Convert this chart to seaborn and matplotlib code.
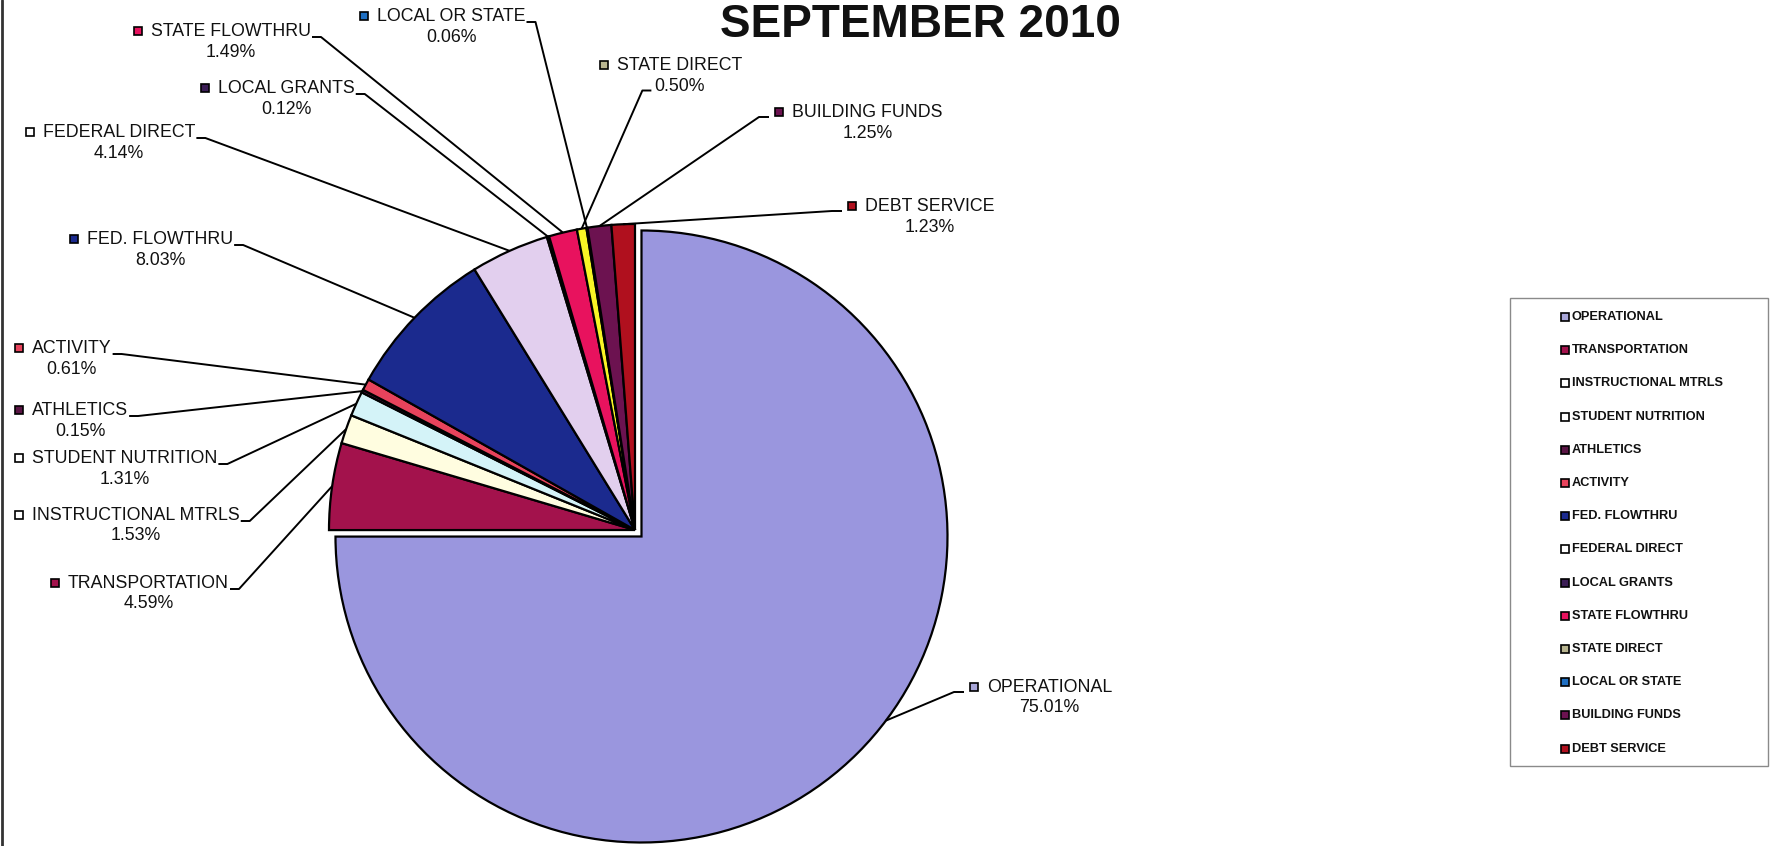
import numpy as np
import pandas as pd
import matplotlib
matplotlib.use("Agg")
import matplotlib.pyplot as plt
import seaborn as sns
from matplotlib.patches import Rectangle

# ---------------- data ----------------
categories = ["OPERATIONAL", "TRANSPORTATION", "INSTRUCTIONAL MTRLS", "STUDENT NUTRITION",
              "ATHLETICS", "ACTIVITY", "FED. FLOWTHRU", "FEDERAL DIRECT", "LOCAL GRANTS",
              "STATE FLOWTHRU", "STATE DIRECT", "LOCAL OR STATE", "BUILDING FUNDS", "DEBT SERVICE"]
percent = [75.01, 4.59, 1.53, 1.31, 0.15, 0.61, 8.03, 4.14, 0.12, 1.49, 0.50, 0.06, 1.25, 1.23]
title = "SEPTEMBER 2010"

colors = ["#9a96de", "#a3124c", "#fffde0", "#d4f3f8", "#5a1545", "#e8435c", "#1b2a8e",
          "#e2cfee", "#3b1d55", "#e8125e", "#f8f525", "#1f6fc2", "#6c1250", "#b0101e"]
marker_colors = ["#a8a6d8", "#a3124c", "#ffffff", "#ffffff", "#5a1545", "#e8435c", "#1b2a8e",
                 "#ffffff", "#3b1d55", "#e8125e", "#b8b590", "#1f6fc2", "#6c1250", "#b0101e"]

# ---------------- layout (pixel positions, y measured from top) ----------------
W, H = 1775, 846
CX, CY, R = 635, 530, 306
labels_pos = {
    "STATE FLOWTHRU": (151, 31, "L"),
    "LOCAL OR STATE": (377, 16, "L"),
    "STATE DIRECT": (617, 65, "P"),
    "BUILDING FUNDS": (792, 112, "R"),
    "DEBT SERVICE": (865, 206, "R"),
    "LOCAL GRANTS": (218, 88, "L"),
    "FEDERAL DIRECT": (43, 132, "L"),
    "FED. FLOWTHRU": (87, 239, "L"),
    "ACTIVITY": (32, 348, "L"),
    "ATHLETICS": (32, 410, "L"),
    "STUDENT NUTRITION": (32, 458, "L"),
    "INSTRUCTIONAL MTRLS": (32, 515, "L"),
    "TRANSPORTATION": (68, 583, "L"),
    "OPERATIONAL": (987, 687, "R"),
}
attach_angle = {"OPERATIONAL": -37}

sns.set_style("white")
plt.rcParams["font.family"] = ["Liberation Sans", "DejaVu Sans"]

fig = plt.figure(figsize=(W / 100, H / 100), dpi=100)
ax = fig.add_axes([0, 0, 1, 1])

def Y(y):
    return H - y

explode = [0.03 * R] + [0] * (len(percent) - 1)
wedges, _ = ax.pie(percent, colors=colors, startangle=90, counterclock=False,
                   explode=explode, center=(CX, Y(CY)), radius=R,
                   wedgeprops=dict(edgecolor="black", linewidth=1.6, antialiased=True))
ax.set_xlim(0, W)
ax.set_ylim(0, H)
ax.set_aspect("equal")
ax.axis("off")

# left border line of the scan
ax.plot([1.5, 1.5], [0, H], color="#333333", lw=2)

ax.text(920, Y(37), title, ha="center", va="baseline", fontsize=33, fontweight="bold", color="#111111")

fig.canvas.draw()
renderer = fig.canvas.get_renderer()

fs = 12.8
for cat, val, col, mcol, w in zip(categories, percent, colors, marker_colors, wedges):
    lx, ly, side = labels_pos[cat]
    t = ax.text(lx, Y(ly), cat, ha="left", va="center", fontsize=fs, color="#111111")
    bb = t.get_window_extent(renderer)
    right = bb.x1
    cxn = (bb.x0 + bb.x1) / 2
    pt = ax.text(cxn, Y(ly + 21), f"{val:.2f}%", ha="center", va="center", fontsize=fs, color="#111111")
    pbb = pt.get_window_extent(renderer)
    mx = lx - 13
    ax.add_patch(Rectangle((mx - 4, Y(ly) - 4), 8, 8, facecolor=mcol, edgecolor="black", lw=1.2))
    ang = np.deg2rad(attach_angle.get(cat, (w.theta1 + w.theta2) / 2))
    wx = w.center[0] + w.r * np.cos(ang)
    wy = w.center[1] + w.r * np.sin(ang)
    if side == "L":
        pts = [(right + 1, Y(ly + 6)), (right + 10, Y(ly + 6)), (wx, wy)]
    elif side == "R":
        pts = [(mx - 10, Y(ly + 5)), (mx - 20, Y(ly + 5)), (wx, wy)]
    else:
        pts = [(pbb.x0 - 3, pbb.y0 + 4), (pbb.x0 - 12, pbb.y0 + 4), (wx, wy)]
    xs, ys = zip(*pts)
    ax.plot(xs, ys, color="black", lw=1.4, solid_capstyle="butt")

# legend box
LX0, LY0, LX1, LY1 = 1510, 298, 1768, 766
ax.add_patch(Rectangle((LX0, Y(LY1)), LX1 - LX0, LY1 - LY0, facecolor="white",
                       edgecolor="#8a8a8a", lw=1.0))
for i, (cat, col) in enumerate(zip(categories, marker_colors)):
    yy = 317 + i * 33.2
    ax.add_patch(Rectangle((1561, Y(yy) - 4), 8, 8, facecolor=col, edgecolor="black", lw=1.2))
    ax.text(1572, Y(yy), cat, ha="left", va="center", fontsize=9.2, fontweight="bold", color="#111111")

fig.savefig("out.png", dpi=100)
